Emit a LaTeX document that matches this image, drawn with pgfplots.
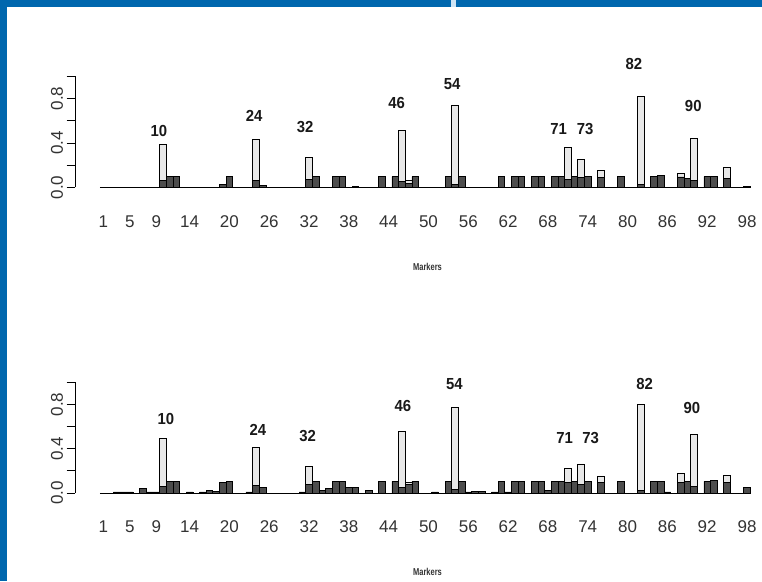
\documentclass[border=0pt]{standalone}
\usepackage{graphicx}
\usepackage{pgfplots}
\usepackage{pgfplotstable}
\pgfplotsset{compat=1.18}
\usepackage{fontspec}
\setmainfont{Liberation Sans}

\definecolor{frameblue}{RGB}{0,103,174}
\definecolor{gapblue}{RGB}{205,228,245}
\definecolor{darkbar}{RGB}{77,77,77}
\definecolor{lightbar}{RGB}{232,232,232}

% upper panel: marker frequencies (dark) and totals (light)
\pgfplotstableread{
m v
10 0.065
11 0.097
12 0.097
19 0.030
20 0.097
24 0.060
25 0.015
32 0.075
33 0.097
36 0.097
37 0.097
39 0.010
43 0.097
45 0.097
46 0.055
47 0.040
48 0.097
53 0.097
54 0.030
55 0.097
61 0.097
63 0.097
64 0.097
66 0.097
67 0.097
69 0.097
70 0.097
71 0.072
72 0.097
73 0.093
74 0.097
76 0.093
79 0.097
82 0.024
84 0.097
85 0.105
88 0.095
89 0.084
90 0.066
92 0.097
93 0.097
95 0.084
98 0.012
}\darkA

\pgfplotstableread{
m v
10 0.390
24 0.433
32 0.270
46 0.510
47 0.066
54 0.735
71 0.360
73 0.255
76 0.150
82 0.820
88 0.130
90 0.443
95 0.183
}\lightA

% lower panel
\pgfplotstableread{
m v
3 0.010
4 0.010
5 0.010
7 0.042
8 0.010
9 0.010
10 0.060
11 0.105
12 0.105
14 0.010
16 0.010
17 0.020
18 0.012
19 0.093
20 0.105
23 0.010
24 0.070
25 0.050
31 0.010
32 0.080
33 0.105
34 0.020
35 0.042
36 0.105
37 0.105
38 0.050
39 0.050
41 0.020
43 0.105
45 0.105
46 0.050
47 0.078
48 0.105
51 0.010
53 0.105
54 0.036
55 0.105
56 0.010
57 0.018
58 0.018
60 0.010
61 0.105
62 0.010
63 0.105
64 0.105
66 0.105
67 0.105
68 0.027
69 0.105
70 0.105
71 0.096
72 0.105
73 0.080
74 0.105
76 0.093
79 0.105
82 0.020
84 0.105
85 0.105
86 0.010
88 0.093
89 0.105
90 0.057
92 0.105
93 0.115
95 0.093
98 0.050
}\darkB

\pgfplotstableread{
m v
10 0.494
24 0.410
32 0.240
46 0.560
47 0.095
54 0.770
71 0.220
73 0.262
76 0.154
82 0.800
88 0.178
90 0.530
95 0.160
}\lightB

\pgfplotsset{
  markerpanel/.style={
    scale only axis, width=687pt,
    xmin=-3.265, xmax=100.26, ymin=0, ymax=1,
    clip=false,
    axis y line*=left, axis x line*=bottom,
    x axis line style={draw=none},
    y axis line style={black, line width=0.8pt},
    xtick={1,5,9,14,20,26,32,38,44,50,56,62,68,74,80,86,92,98},
    xticklabels={1,5,9,14,20,26,32,38,44,50,56,62,68,74,80,86,92,98},
    major x tick style={draw=none},
    ytick={0,0.2,0.4,0.6,0.8,1},
    yticklabels={0.0,,0.4,,0.8,},
    ytick align=outside,
    major tick length=8.5pt,
    major y tick style={black, line width=0.8pt},
    yticklabel style={rotate=90, anchor=south, text=black!80,
      font=\fontsize{17}{17}\selectfont},
    xticklabel style={anchor=center, yshift=-34pt, text=black!80,
      font=\fontsize{17}{17}\selectfont},
  },
  totalbar/.style={ybar, bar width=1, bar shift=0pt, draw=black,
    line width=0.7pt, fill=lightbar},
  freqbar/.style={ybar, bar width=1, bar shift=0pt, draw=black,
    line width=0.7pt, fill=darkbar},
  zeroline/.style={sharp plot, black, line width=0.7pt, no marks},
}
\tikzset{
  peak/.style={font=\bfseries\fontsize{16}{16}\selectfont, text=black!90},
  axname/.style={font=\bfseries\fontsize{10}{10}\selectfont, text=black!80},
}
\newcommand{\peaklabel}[1]{\scalebox{0.93}[1]{#1}}

\begin{document}
\begin{tikzpicture}[x=1pt,y=1pt]
\useasboundingbox (0,0) rectangle (762,581);
\fill[white] (0,0) rectangle (762,581);
% slide frame
\fill[frameblue] (0,573.7) rectangle (762,581);
\fill[frameblue] (0,0) rectangle (7,581);
\fill[gapblue] (451,573.7) rectangle (455.5,581);

% upper panel
\begin{axis}[markerpanel, height=111.3pt, at={(75pt,393.5pt)}, anchor=south west]
\addplot[zeroline] coordinates {(0.5,0) (98.5,0)};
\addplot[totalbar] table[x=m, y=v] {\lightA};
\addplot[freqbar] table[x=m, y=v] {\darkA};
\node[peak] at (axis cs:9.36,0.509) {\peaklabel{10}};
\node[peak] at (axis cs:23.74,0.640) {\peaklabel{24}};
\node[peak] at (axis cs:31.4,0.544) {\peaklabel{32}};
\node[peak] at (axis cs:45.2,0.757) {\peaklabel{46}};
\node[peak] at (axis cs:53.58,0.933) {\peaklabel{54}};
\node[peak] at (axis cs:69.6,0.526) {\peaklabel{71}};
\node[peak] at (axis cs:73.6,0.526) {\peaklabel{73}};
\node[peak] at (axis cs:80.94,1.11) {\peaklabel{82}};
\node[peak] at (axis cs:89.9,0.73) {\peaklabel{90}};
\end{axis}
\node[axname] at (427.5,314) {\scalebox{0.75}[1]{Markers}};

% lower panel
\begin{axis}[markerpanel, height=110.7pt, at={(75pt,88pt)}, anchor=south west]
\addplot[zeroline] coordinates {(0.5,0) (98.5,0)};
\addplot[totalbar] table[x=m, y=v] {\lightB};
\addplot[freqbar] table[x=m, y=v] {\darkB};
\node[peak] at (axis cs:10.42,0.667) {\peaklabel{10}};
\node[peak] at (axis cs:24.3,0.572) {\peaklabel{24}};
\node[peak] at (axis cs:31.8,0.517) {\peaklabel{32}};
\node[peak] at (axis cs:46.13,0.784) {\peaklabel{46}};
\node[peak] at (axis cs:53.92,0.983) {\peaklabel{54}};
\node[peak] at (axis cs:70.53,0.494) {\peaklabel{71}};
\node[peak] at (axis cs:74.42,0.494) {\peaklabel{73}};
\node[peak] at (axis cs:82.59,0.986) {\peaklabel{82}};
\node[peak] at (axis cs:89.71,0.772) {\peaklabel{90}};
\end{axis}
\node[axname] at (427.5,9) {\scalebox{0.75}[1]{Markers}};
\end{tikzpicture}
\end{document}
